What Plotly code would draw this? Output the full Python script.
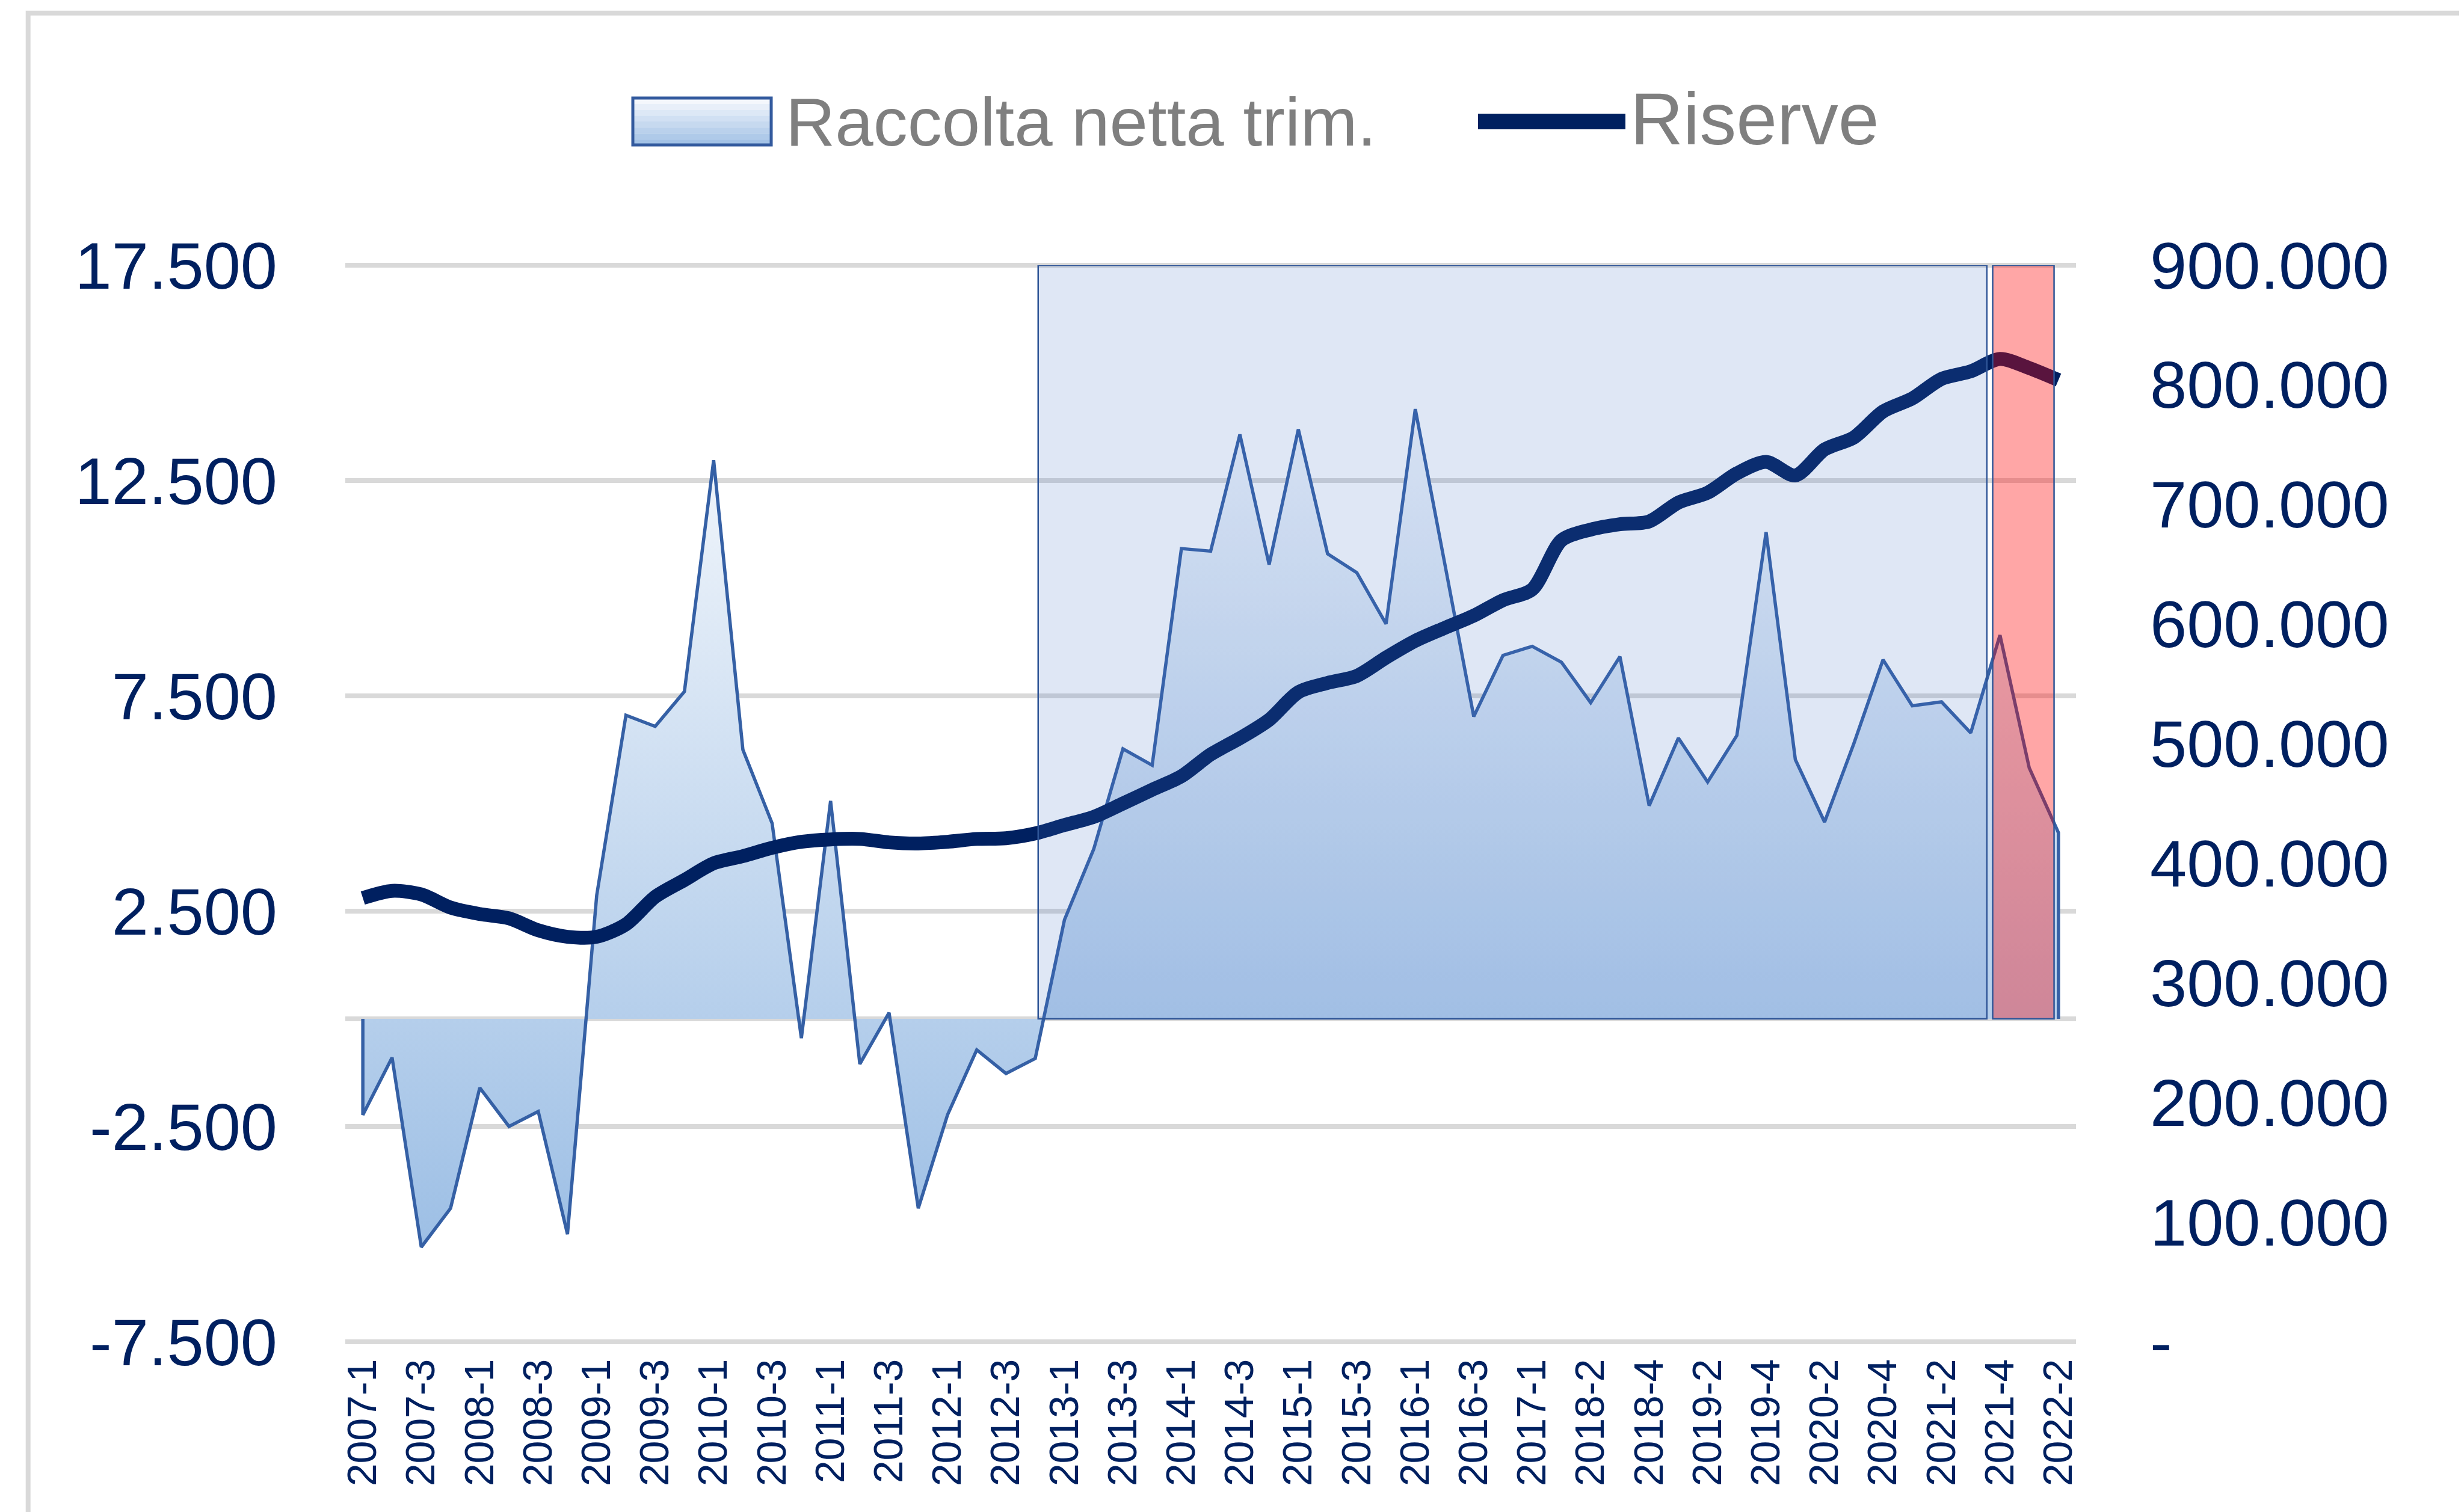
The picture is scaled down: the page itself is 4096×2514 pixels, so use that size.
import plotly.graph_objects as go

# ---------------- data ----------------
categories = [
    "2007-1", "2007-2", "2007-3", "2007-4",
    "2008-1", "2008-2", "2008-3", "2008-4",
    "2009-1", "2009-2", "2009-3", "2009-4",
    "2010-1", "2010-2", "2010-3", "2010-4",
    "2011-1", "2011-2", "2011-3", "2011-4",
    "2012-1", "2012-2", "2012-3", "2012-4",
    "2013-1", "2013-2", "2013-3", "2013-4",
    "2014-1", "2014-2", "2014-3", "2014-4",
    "2015-1", "2015-2", "2015-3", "2015-4",
    "2016-1", "2016-2", "2016-3", "2016-4",
    "2017-1", "2018-1", "2018-2", "2018-3", "2018-4",
    "2019-1", "2019-2", "2019-3", "2019-4",
    "2020-1", "2020-2", "2020-3", "2020-4",
    "2021-1", "2021-2", "2021-3", "2021-4",
    "2022-1", "2022-2",
]

raccolta_netta = [
    -2230, -900, -5300, -4400, -1600, -2500, -2150, -5000,
    2870, 7050, 6790, 7600, 12970, 6250, 4540, -450,
    5060, -1050, 140, -4400, -2230, -720, -1270, -920,
    2300, 3940, 6270, 5890, 10920, 10860, 13570, 10550,
    13690, 10800, 10360, 9170, 14160, 10600, 7020, 8440,
    8650, 8280, 7340, 8410, 4950, 6520, 5500, 6580,
    11300, 6020, 4570, 6390, 8340, 7270, 7360, 6640,
    8910, 5830, 4320,
]

riserve = [
    371000, 377000, 374000, 363000, 357600, 354000, 344000, 338600,
    338600, 349000, 372000, 386000, 400000, 406000, 413000, 418000,
    420000, 420400, 417500, 416600, 418000, 420400, 421000, 425000,
    432000, 438800, 450000, 461500, 472800, 491000, 504600, 520000,
    543000, 550800, 556700, 572000, 586000, 596700, 607000, 620000,
    629000, 670000, 679000, 683500, 685800, 701600, 709800, 726000,
    735600, 724300, 746000, 756000, 777700, 788600, 805000, 811300,
    821700, 814000, 804000,
]

left_tickvals = [-7500, -2500, 2500, 7500, 12500, 17500]
left_ticktext = ["-7.500", "-2.500", "2.500", "7.500", "12.500", "17.500"]
right_tickvals = [0, 100000, 200000, 300000, 400000, 500000, 600000, 700000, 800000, 900000]
right_ticktext = ["-", "100.000", "200.000", "300.000", "400.000", "500.000",
                  "600.000", "700.000", "800.000", "900.000"]
x_ticklabels = categories[::2]

legend_raccolta = "Raccolta netta trim."
legend_riserve = "Riserve"

# ---------------- layout geometry ----------------
W, H = 4096, 2514
ML, MR, MT, MB = 566, 653, 433, 291
PW, PH = W - ML - MR, H - MT - MB


def px(X):
    return (X - ML) / PW


def py(Y):
    return (H - MB - Y) / PH


FONT = "Liberation Sans, Arial, sans-serif"
NAVY = "#002060"
GRID = "#d9d9d9"
EDGE = "#2f5597"

left_range = [left_tickvals[0], left_tickvals[-1]]
right_range = [right_tickvals[0], right_tickvals[-1]]

fig = go.Figure()

# area series (closed at both ends on the zero line so its edges are outlined)
x_area = [categories[0]] + categories + [categories[-1]]
y_area = [0] + raccolta_netta + [0]
fig.add_trace(go.Scatter(
    x=x_area, y=y_area, mode="lines", name=legend_raccolta,
    line=dict(color="#3560a5", width=5.5),
    fill="tozeroy",
    fillgradient=dict(type="vertical",
                      colorscale=[[0, "#9dbfe5"], [1, "#f5f8fc"]],
                      start=min(raccolta_netta), stop=max(raccolta_netta)),
    showlegend=False, hoverinfo="x+y",
))

fig.add_trace(go.Scatter(
    x=categories, y=riserve, mode="lines", name=legend_riserve, yaxis="y2",
    line=dict(color=NAVY, width=23, shape="spline", smoothing=0.8),
    showlegend=False,
))

shapes = []
# outer chart frame
shapes.append(dict(type="rect", xref="paper", yref="paper",
                   x0=px(38.7), x1=px(4089), y0=py(13.8), y1=py(2700),
                   line=dict(color=GRID, width=8), fillcolor="rgba(0,0,0,0)",
                   layer="below"))
# gridlines at the two ends of the value axis (plotly skips grid at range edges)
for gy in (0, 1):
    shapes.append(dict(type="line", xref="paper", yref="paper", x0=0, x1=1, y0=gy, y1=gy,
                       line=dict(color=GRID, width=8), layer="below"))
# highlighted periods
shapes.append(dict(type="rect", xref="x", yref="y", x0=23.1, x1=55.55, y0=0, y1=17500,
                   fillcolor="rgba(68,114,196,0.17)", line=dict(color=EDGE, width=2.5),
                   layer="above"))
shapes.append(dict(type="rect", xref="x", yref="y", x0=55.75, x1=57.85, y0=0, y1=17500,
                   fillcolor="rgba(255,0,0,0.35)", line=dict(color=EDGE, width=2.5),
                   layer="above"))

# legend swatch (banded gradient)
sx0, sx1, sy0, sy1 = 1044, 1274, 155, 233
top_c, bot_c = (0xf4, 0xf7, 0xfc), (0xa3, 0xc2, 0xe6)
nb = 8
for k in range(nb):
    t = k / (nb - 1)
    c = tuple(round(top_c[j] + (bot_c[j] - top_c[j]) * t) for j in range(3))
    ya = sy0 + (sy1 - sy0) * k / nb
    yb = sy0 + (sy1 - sy0) * (k + 1) / nb
    shapes.append(dict(type="rect", xref="paper", yref="paper",
                       x0=px(sx0), x1=px(sx1), y0=py(yb), y1=py(ya),
                       fillcolor="rgb(%d,%d,%d)" % c, line=dict(width=0)))
shapes.append(dict(type="rect", xref="paper", yref="paper",
                   x0=px(sx0), x1=px(sx1), y0=py(sy1), y1=py(sy0),
                   fillcolor="rgba(0,0,0,0)", line=dict(color="#335a9e", width=5)))
# legend line
shapes.append(dict(type="line", xref="paper", yref="paper",
                   x0=px(2449), x1=px(2694), y0=py(194), y1=py(194),
                   line=dict(color=NAVY, width=26)))

annotations = [
    dict(text=legend_raccolta, xref="paper", yref="paper", x=px(1296), y=py(194),
         xanchor="left", yanchor="middle", showarrow=False,
         font=dict(family=FONT, size=114, color="#7f7f7f")),
    dict(text=legend_riserve, xref="paper", yref="paper", x=px(2700), y=py(190),
         xanchor="left", yanchor="middle", showarrow=False,
         font=dict(family=FONT, size=122, color="#7f7f7f")),
]

fig.update_layout(
    template="none",
    width=W, height=H,
    margin=dict(l=ML, r=MR, t=MT, b=MB, pad=0),
    paper_bgcolor="white", plot_bgcolor="white",
    showlegend=False,
    font=dict(family=FONT, color=NAVY),
    xaxis=dict(
        type="category", categoryorder="array", categoryarray=categories,
        range=[-0.6, 58.6], tickmode="array", tickvals=x_ticklabels, ticktext=x_ticklabels,
        tickangle=-90, tickfont=dict(family=FONT, size=68, color=NAVY),
        showgrid=False, zeroline=False, showline=False, ticks="",
        ticklabelstandoff=14, automargin=False,
    ),
    yaxis=dict(
        range=left_range, tickmode="array", tickvals=left_tickvals, ticktext=left_ticktext,
        tickfont=dict(family=FONT, size=110, color=NAVY),
        showgrid=True, gridcolor=GRID, gridwidth=8,
        zeroline=True, zerolinecolor=GRID, zerolinewidth=8,
        showline=False, ticks="", ticklabelstandoff=112, automargin=False,
    ),
    yaxis2=dict(
        overlaying="y", side="right", range=right_range,
        tickmode="array", tickvals=right_tickvals, ticktext=right_ticktext,
        tickfont=dict(family=FONT, size=110, color=NAVY),
        showgrid=False, zeroline=False, showline=False, ticks="",
        ticklabelstandoff=122, automargin=False,
    ),
    shapes=shapes,
    annotations=annotations,
)

fig.write_html("out.html")
